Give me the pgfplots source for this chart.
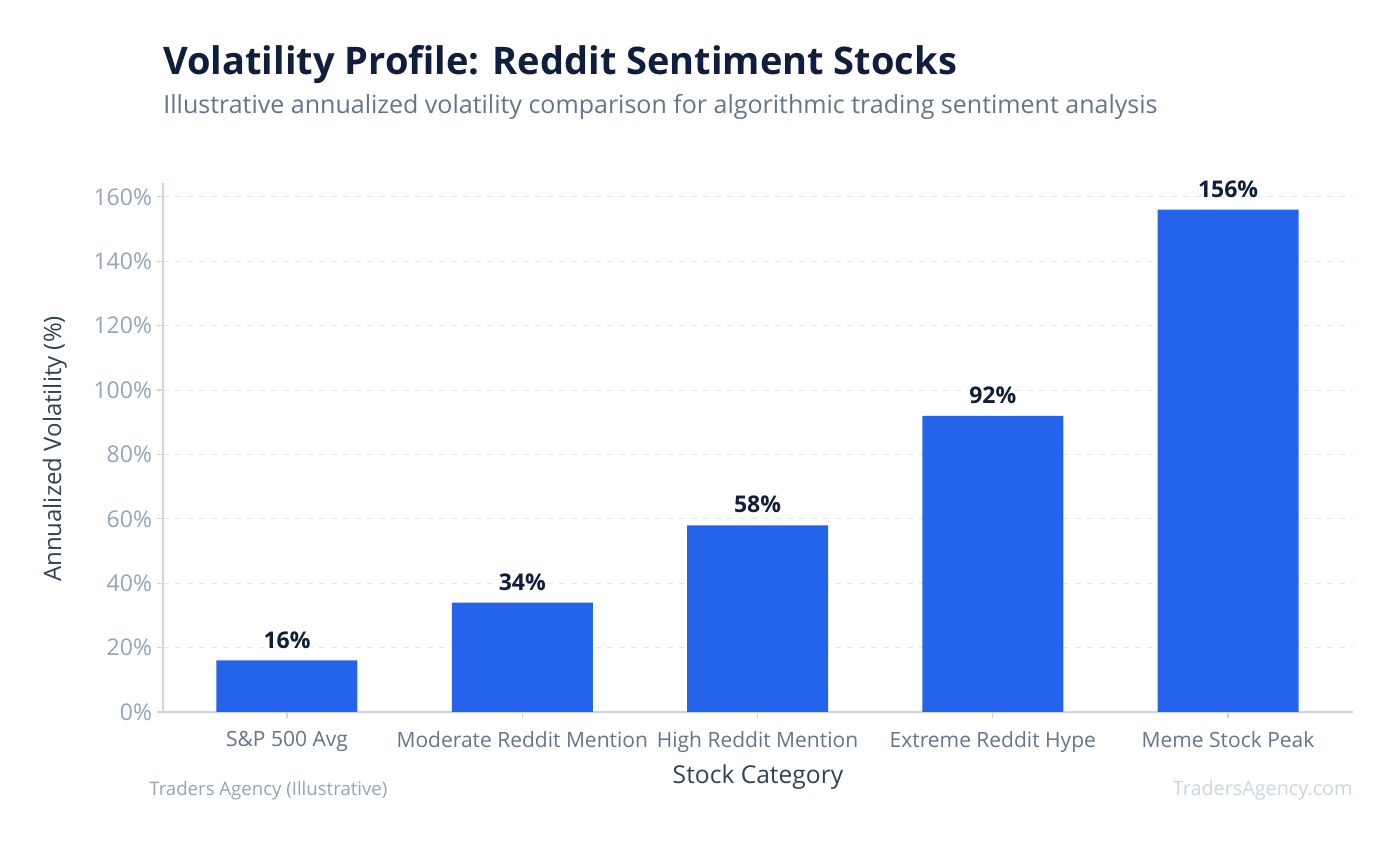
\documentclass[border=0pt]{standalone}
\usepackage{fontspec}
\setmainfont{Open Sans}
\usepackage{pgfplots}
\pgfplotsset{compat=1.18}

\definecolor{barblue}{HTML}{2563EB}
\definecolor{titlecol}{HTML}{0F1E3D}
\definecolor{subcol}{HTML}{64748B}
\definecolor{tickcol}{HTML}{94A3B8}
\definecolor{labcol}{HTML}{334155}
\definecolor{axcol}{HTML}{CBD5E1}
\definecolor{gridcol}{HTML}{E2E8F0}

\begin{document}
\begin{tikzpicture}[x=0.5pt,y=0.5pt]
\useasboundingbox (0,0) rectangle (1398,845);
\begin{axis}[
    at={(81.5pt,66.5pt)}, anchor=south west,
    scale only axis,
    width=595pt, height=264.5pt,
    xmin=-0.527, xmax=4.531,
    ymin=0, ymax=164.3,
    axis x line*=bottom,
    axis y line*=left,
    axis line style={axcol, line width=0.8pt},
    xtick={0,1,2,3,4},
    xticklabels={S\&P 500 Avg, Moderate Reddit Mention, High Reddit Mention, Extreme Reddit Hype, Meme Stock Peak},
    ytick={0,20,...,160},
    yticklabel={\pgfmathprintnumber{\tick}\%},
    /pgf/number format/assume math mode=true,
    tick style={axcol, line width=0.6pt},
    tick align=outside,
    major tick length=3pt,
    x tick label style={font=\fontsize{10.5}{12}\selectfont, text=subcol, yshift=-3pt},
    y tick label style={font=\fontsize{11.5}{13}\selectfont, text=tickcol, xshift=1pt},
    ymajorgrids,
    grid style={gridcol, dashed, line width=0.5pt},
    ybar, bar width=70.5pt,
    nodes near coords={\pgfmathprintnumber{\pgfplotspointmeta}\%},
    nodes near coords style={font=\fontsize{11.5}{13}\selectfont\bfseries, text=titlecol, yshift=2.5pt},
    clip=false,
]
\addplot[fill=barblue, draw=none] coordinates {
    (0,16) (1,34) (2,58) (3,92) (4,156)
};
\end{axis}
\node[anchor=base west, text=titlecol, font=\fontsize{19}{23}\selectfont\bfseries, inner sep=0pt] at (163,770) {Volatility Profile: Reddit Sentiment Stocks};
\node[anchor=base west, text=subcol, font=\fontsize{12.5}{15}\selectfont, inner sep=0pt] at (163,731) {Illustrative annualized volatility comparison for algorithmic trading sentiment analysis};
\node[rotate=90, text=labcol, font=\fontsize{12}{14}\selectfont, inner sep=0pt] at (55,396) {Annualized Volatility (\%)};
\node[anchor=base, text=labcol, font=\fontsize{12.3}{14}\selectfont, inner sep=0pt] at (758,61) {Stock Category};
\node[anchor=base west, text=tickcol, font=\fontsize{9.3}{11}\selectfont, inner sep=0pt] at (149,49) {Traders Agency (Illustrative)};
\node[anchor=base east, text=axcol, font=\fontsize{9.9}{11}\selectfont, inner sep=0pt] at (1353,49) {TradersAgency.com};
\end{tikzpicture}
\end{document}
